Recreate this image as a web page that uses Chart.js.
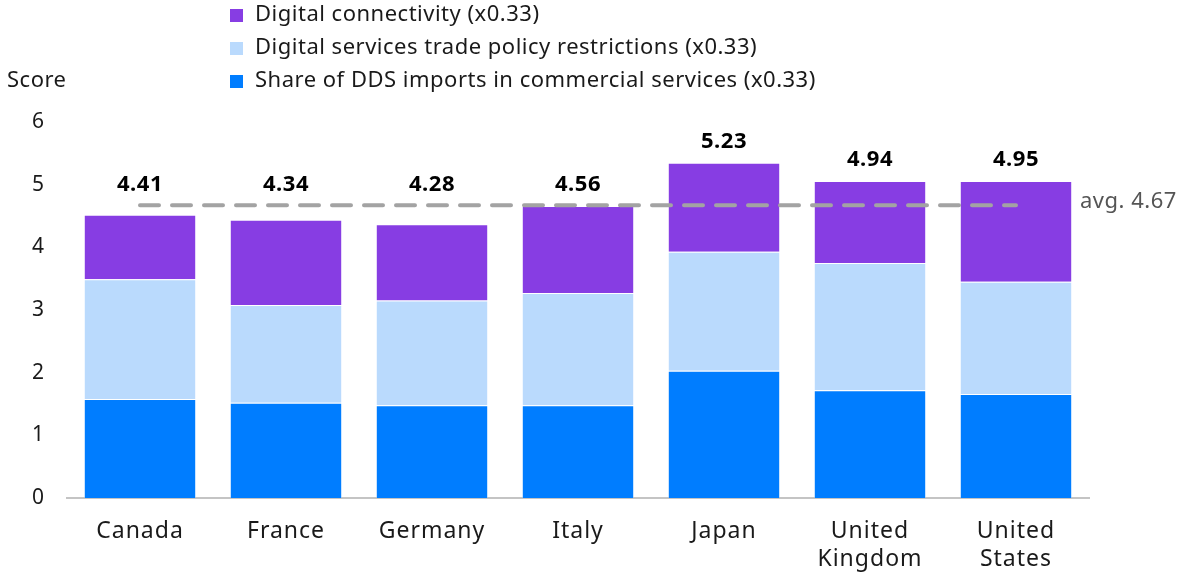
<!DOCTYPE html>
<html>
<head>
<meta charset="utf-8">
<script src="https://cdn.jsdelivr.net/npm/chart.js@4"></script>
<style>
  html, body { margin: 0; padding: 0; background: #fff; }
  #wrap { width: 1182px; height: 572px; position: relative; }
</style>
</head>
<body>
<div id="wrap"><canvas id="chart"></canvas></div>
<script>
// chart data
const countries = [['Canada'], ['France'], ['Germany'], ['Italy'], ['Japan'], ['United', 'Kingdom'], ['United', 'States']];
const ddsShare = [1.58, 1.52, 1.48, 1.48, 2.03, 1.72, 1.66];
const policyRestr = [1.91, 1.56, 1.67, 1.79, 1.90, 2.03, 1.79];
const connectivity = [1.03, 1.36, 1.22, 1.39, 1.42, 1.31, 1.61];
const totalLabels = ['4.41', '4.34', '4.28', '4.56', '5.23', '4.94', '4.95'];
const avgValue = 4.67;
const yTicks = [0, 1, 2, 3, 4, 5, 6];

const seriesNames = [
  'Digital connectivity (x0.33)',
  'Digital services trade policy restrictions (x0.33)',
  'Share of DDS imports in commercial services (x0.33)'
];
const seriesColors = ['#873de3', '#badafd', '#007dff'];

const FONT = '"Noto Sans", sans-serif';

// draws legend, "Score", value labels and avg text
const extrasPlugin = {
  id: 'extras',
  beforeDraw(chart) {
    // the reference font is wider, spread the tick labels a bit
    chart.ctx.letterSpacing = '1px';
  },
  afterDraw(chart) {
    const ctx = chart.ctx;
    ctx.save();
    ctx.letterSpacing = '0.5px';
    // legend
    ctx.font = '22px ' + FONT;
    ctx.textBaseline = 'middle';
    ctx.textAlign = 'left';
    const rows = [15, 48, 81];
    seriesNames.forEach((name, i) => {
      ctx.fillStyle = seriesColors[i];
      ctx.fillRect(230, rows[i] - 6, 13, 13);
      ctx.fillStyle = '#1a1a1a';
      ctx.fillText(name, 255, rows[i]);
    });
    // axis title
    ctx.fillText('Score', 7, 81);

    // totals sit above the bar or the avg line, whichever is higher
    const avgY = chart.scales.y.getPixelForValue(avgValue);
    const top = chart.getDatasetMeta(3);
    ctx.font = 'bold 22px ' + FONT;
    ctx.textAlign = 'center';
    ctx.fillStyle = '#000';
    top.data.forEach((bar, i) => {
      ctx.fillText(totalLabels[i], bar.x, Math.min(bar.y, avgY) - 21);
    });

    // avg label
    ctx.font = '22px ' + FONT;
    ctx.textAlign = 'left';
    ctx.fillStyle = '#555';
    ctx.fillText('avg. ' + avgValue.toFixed(2), 1080, avgY - 4);
    ctx.restore();
    ctx.letterSpacing = '0px';
  }
};

const ctx = document.getElementById('chart').getContext('2d');

new Chart(ctx, {
  type: 'bar',
  data: {
    labels: countries,
    datasets: [
      {
        type: 'line',
        label: 'avg',
        data: countries.map(() => avgValue),
        borderColor: '#a3a3a3',
        borderWidth: 4,
        borderDash: [19, 13],
        borderCapStyle: 'round',
        pointRadius: 0,
        fill: false,
        stack: 'avg',
        order: 0
      },
      {
        label: seriesNames[2],
        data: ddsShare,
        backgroundColor: seriesColors[2],
        borderColor: 'rgba(255,255,255,0.3)',
        borderWidth: 1,
        order: 1
      },
      {
        label: seriesNames[1],
        data: policyRestr,
        backgroundColor: seriesColors[1],
        borderColor: 'rgba(255,255,255,0.3)',
        borderWidth: 1,
        order: 2
      },
      {
        label: seriesNames[0],
        data: connectivity,
        backgroundColor: seriesColors[0],
        borderColor: 'rgba(255,255,255,0.3)',
        borderWidth: 1,
        order: 3
      }
    ]
  },
  options: {
    responsive: true,
    maintainAspectRatio: false,
    animation: false,
    barPercentage: 0.77,
    categoryPercentage: 1.0,
    layout: { padding: { top: 122, right: 93, left: 0, bottom: 0 } },
    plugins: {
      legend: { display: false },
      tooltip: { enabled: false }
    },
    scales: {
      x: {
        stacked: true,
        grid: { display: false, drawTicks: false },
        border: { display: true, color: '#c4c4c4', width: 2 },
        ticks: {
          color: '#1a1a1a',
          font: { family: FONT, size: 23 },
          padding: 20,
          maxRotation: 0
        },
        afterFit(scale) { scale.height = 74; }
      },
      y: {
        stacked: true,
        min: 0,
        max: 6,
        afterBuildTicks(scale) { scale.ticks = yTicks.map(v => ({ value: v })); },
        grid: { display: false, drawTicks: false },
        border: { display: false },
        ticks: {
          color: '#1a1a1a',
          font: { family: FONT, size: 21 },
          padding: 22
        },
        afterFit(scale) { scale.width = 67; }
      }
    }
  },
  plugins: [extrasPlugin]
});
</script>
</body>
</html>
